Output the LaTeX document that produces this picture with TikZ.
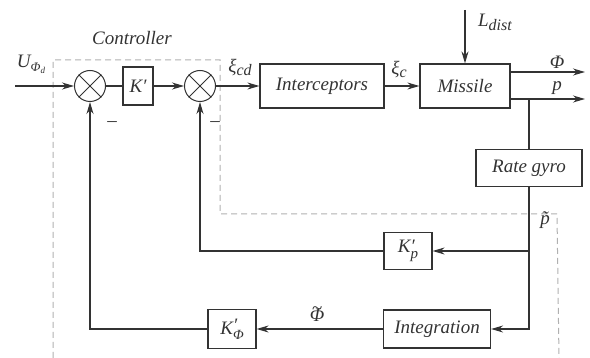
\documentclass[tikz,border=0pt]{standalone}
\usepackage{fontspec}
\setmainfont{Liberation Serif}
\usetikzlibrary{arrows.meta}
\definecolor{ln}{HTML}{333333}
\definecolor{dsh}{HTML}{B0B0B0}
\newcommand{\tld}[2][1pt]{\makebox[0pt][l]{\hspace{#1}\raisebox{7pt}{\textasciitilde}}#2}
\begin{document}
\begin{tikzpicture}[x=1pt,y=-1pt,
 blk/.style={draw=ln,line width=1.2pt,minimum height=38pt,inner sep=0pt,font=\fontsize{19}{22}\selectfont\itshape,text=ln},
 sumc/.style={circle,draw=ln,line width=1pt,minimum size=31pt,inner sep=0pt},
 sig/.style={draw=ln,line width=1.2pt},
 arr/.style={sig,-{Stealth[length=12pt,width=7pt]}},
 lbl/.style={font=\fontsize{19}{22}\selectfont\itshape,text=ln,inner sep=0pt},
 ctrl/.style={draw=dsh,line width=1pt,dash pattern=on 6pt off 4pt}]
\useasboundingbox (0,0) rectangle (590,358);
% controller boundary
\draw[ctrl] (53,358) -- (53,60) -- (220,60) -- (220,214) -- (557,214) -- (559,358);
% blocks
\node[sumc] (s1) at (90,86) {};
\node[blk,minimum width=30pt] (k) at (138,86) {K′};
\node[sumc] (s2) at (200,86) {};
\node[blk,minimum width=124pt,minimum height=44pt] (int) at (322,86) {Interceptors};
\node[blk,minimum width=90pt,minimum height=44pt] (mis) at (465,86) {Missile};
\node[blk,minimum width=106pt,minimum height=37pt] (rg) at (529,168) {Rate gyro};
\node[blk,minimum width=48pt,minimum height=37pt] (kp) at (408,251) {K\rlap{′}\raisebox{-6pt}{\fontsize{15}{15}\selectfont p}};
\node[blk,minimum width=107pt,minimum height=38pt] (ig) at (437,329) {Integration};
\node[blk,minimum width=48pt,minimum height=39pt] (kf) at (232,329) {K\rlap{\raisebox{3pt}{′}}\raisebox{-5pt}{\fontsize{14}{14}\selectfont Φ}};
% crosses in summing junctions
\draw[ln,line width=0.8pt] (s1.north east) -- (s1.south west) (s1.north west) -- (s1.south east);
\draw[ln,line width=0.8pt] (s2.north east) -- (s2.south west) (s2.north west) -- (s2.south east);
% coordinates
\coordinate (in) at (15,86);
\coordinate (ltop) at (465,10);
\coordinate (phio) at (585,72);
\coordinate (po) at (585,99);
\coordinate (b1) at (529,99);
\coordinate (b2) at (529,251);
\coordinate (b3) at (529,329);
% connectors
\draw[arr] (in) -- (s1);
\draw[sig] (s1) -- (k);
\draw[arr] (k) -- (s2);
\draw[arr] (s2) -- (int);
\draw[arr] (int) -- (mis);
\draw[arr] (ltop) -- (mis);
\draw[arr] (mis.east |- phio) -- (phio);
\draw[arr] (mis.east |- po) -- (po);
\draw[sig] (b1) -- (rg);
\draw[arr] (rg.south) -- (b3) -- (ig.east);
\draw[arr] (b2) -- (kp);
\draw[arr] (kp.west) -| (s2.south);
\draw[arr] (ig) -- (kf);
\draw[arr] (kf.west) -| (s1.south);
% labels
\node[lbl] (lctrl) at (132,38) {Controller};
\node[lbl] (lu) at (31,64) {U\raisebox{-4pt}{\fontsize{13}{13}\selectfont Φ\raisebox{-2pt}{\fontsize{9}{9}\selectfont d}}};
\node[lbl] (lxcd) at (240,68) {ξ\raisebox{-3pt}{\fontsize{16}{16}\selectfont cd}};
\node[lbl] (lxc) at (399,70) {ξ\raisebox{-3pt}{\fontsize{16}{16}\selectfont c}};
\node[lbl] (ld) at (495,22) {L\raisebox{-4pt}{\fontsize{16}{16}\selectfont dist}};
\node[lbl] (lphi) at (557,62) {Φ};
\node[lbl] (lp) at (557,88) {p};
\node[lbl] (lpt) at (545,220) {\~{p}};
\node[lbl] (lphit) at (317,314) {\tld[2pt]{Φ}};
\node[lbl] (m1) at (112,124) {–};
\node[lbl] (m2) at (215,124) {–};
\end{tikzpicture}
\end{document}
